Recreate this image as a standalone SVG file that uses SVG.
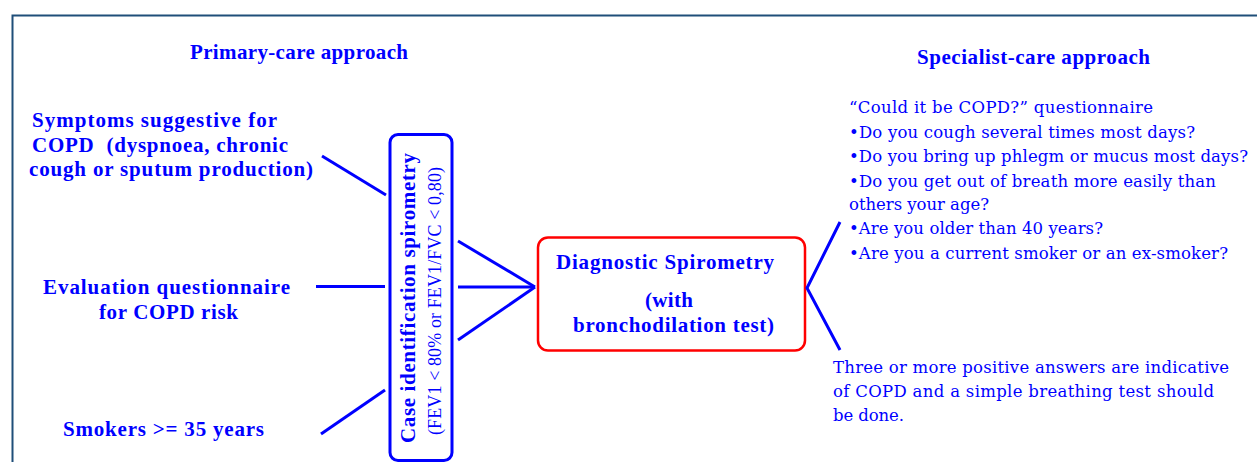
<svg xmlns="http://www.w3.org/2000/svg" width="1257" height="462" viewBox="0 0 1257 462">
<defs>
<style>
text{fill:#0000ff;font-family:"Liberation Serif","Times New Roman",serif}
.b{font-weight:bold;font-size:21px}
.r{font-size:18px}
.q{font-family:"DejaVu Serif","Liberation Serif",serif;font-size:16.5px}
.m{text-anchor:middle}
.ln{stroke:#0000ff;stroke-width:3;fill:none;stroke-linecap:butt}
</style>
</defs>
<rect width="1257" height="462" fill="#ffffff"/>
<path d="M12.5,462 V15.5 H1257" fill="none" stroke="#1f4e79" stroke-width="2"/>
<g id="title-primary"><text class="b" x="190" y="59" textLength="218" lengthAdjust="spacing">Primary-care approach</text></g>
<g id="title-specialist"><text class="b" x="917" y="64" textLength="233" lengthAdjust="spacing">Specialist-care approach</text></g>
<g id="symptoms">
<text class="b" x="32" y="127" textLength="245" lengthAdjust="spacing">Symptoms suggestive for</text>
<text class="b" x="32" y="152" textLength="256" lengthAdjust="spacing" style="white-space:pre">COPD  (dyspnoea, chronic</text>
<text class="b" x="29" y="176" textLength="284" lengthAdjust="spacing">cough or sputum production)</text>
</g>
<g id="evaluation">
<text class="b" x="43" y="294" textLength="247" lengthAdjust="spacing">Evaluation questionnaire</text>
<text class="b" x="99" y="319" textLength="139" lengthAdjust="spacing">for COPD risk</text>
</g>
<g id="smokers"><text class="b" x="63" y="436" textLength="201" lengthAdjust="spacing">Smokers &gt;= 35 years</text></g>
<g id="case-identification">
<rect x="390" y="134.5" width="62" height="326" rx="8" fill="none" stroke="#0000ff" stroke-width="3"/>
<text class="b m" transform="translate(415,298) rotate(-90)" font-size="22" textLength="290" lengthAdjust="spacing">Case identification spirometry</text>
<text class="r m" transform="translate(441,301) rotate(-90)" textLength="268" lengthAdjust="spacing">(FEV1 &lt; 80% or FEV1/FVC &lt; 0,80)</text>
</g>
<g id="diagnostic">
<rect x="538" y="237.5" width="267" height="113" rx="10" fill="none" stroke="#ff0000" stroke-width="2.5"/>
<text class="b" x="556" y="269" textLength="218" lengthAdjust="spacing">Diagnostic Spirometry</text>
<text class="b" x="645" y="307" textLength="48" lengthAdjust="spacing">(with</text>
<text class="b" x="573" y="332" textLength="201" lengthAdjust="spacing">bronchodilation test)</text>
</g>
<g id="questionnaire">
<text class="q" x="849" y="113" textLength="304" lengthAdjust="spacing">“Could it be COPD?” questionnaire</text>
<text class="q" x="849" y="138" textLength="346" lengthAdjust="spacing">•Do you cough several times most days?</text>
<text class="q" x="849" y="162" textLength="399" lengthAdjust="spacing">•Do you bring up phlegm or mucus most days?</text>
<text class="q" x="849" y="187" textLength="367" lengthAdjust="spacing">•Do you get out of breath more easily than</text>
<text class="q" x="849" y="210" textLength="140" lengthAdjust="spacing">others your age?</text>
<text class="q" x="849" y="234" textLength="254" lengthAdjust="spacing">•Are you older than 40 years?</text>
<text class="q" x="849" y="259" textLength="379" lengthAdjust="spacing">•Are you a current smoker or an ex-smoker?</text>
</g>
<g id="conclusion">
<text class="q" x="833" y="373" textLength="396" lengthAdjust="spacing">Three or more positive answers are indicative</text>
<text class="q" x="833" y="397" textLength="381" lengthAdjust="spacing">of COPD and a simple breathing test should</text>
<text class="q" x="833" y="421" textLength="71" lengthAdjust="spacing">be done.</text>
</g>
<g id="connectors">
<line class="ln" x1="322" y1="156" x2="386" y2="195"/>
<line class="ln" x1="316" y1="286.5" x2="385" y2="286.5"/>
<line class="ln" x1="321" y1="434" x2="385" y2="390"/>
<line class="ln" x1="458" y1="241" x2="535" y2="287"/>
<line class="ln" x1="458" y1="287" x2="535" y2="287"/>
<line class="ln" x1="458" y1="340" x2="535" y2="287"/>
<polyline class="ln" points="840,222 807,288 840,350"/>
</g>
</svg>
